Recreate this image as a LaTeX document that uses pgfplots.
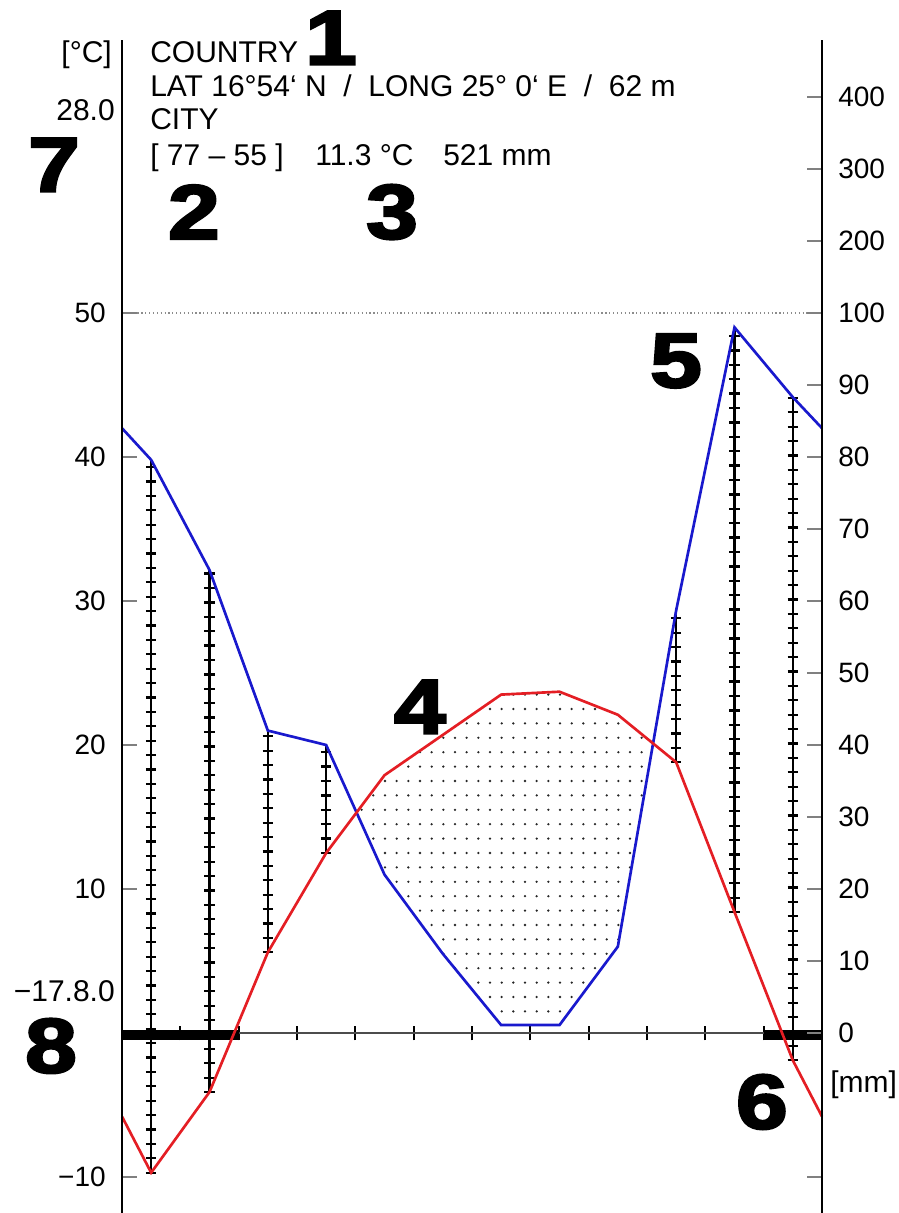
\documentclass[border=0pt]{standalone}
\usepackage{fontspec}
\setmainfont{Liberation Sans}
\newfontfamily\blk{Liberation Sans}[FakeBold=3]
\usepackage{graphicx}
\usepackage{pgfplots}
\usepackage{pgfplotstable}
\pgfplotsset{compat=1.18}
\usepgfplotslibrary{fillbetween}
\usetikzlibrary{patterns.meta,decorations.pathreplacing}
\definecolor{wlred}{RGB}{228,30,36}
\definecolor{wlblue}{RGB}{25,25,205}

\tikzdeclarepattern{
  name=wldots,
  type=uncolored,
  bounding box={(-1.2pt,-1.2pt) and (1.2pt,1.2pt)},
  tile size={(8.75pt,10.8pt)},
  code={\fill (0pt,0pt) circle (0.95pt);}
}

% x = month position (0..12), t = temperature [°C], p = precipitation [mm]
\pgfplotstableread{
x    t     p
0    -5.8  84.0
0.5  -9.7  79.6
1.5  -4.1  64.3
2.5   5.6  42.0
3.5  12.5  40.0
4.5  17.9  22.0
5.5  20.7  11.0
6.5  23.5   1.1
7.5  23.7   1.1
8.5  22.1  12.0
9.5  18.8  58.7
10.5  8.4  98.0
11.5 -1.9  88.3
12   -5.8  84.0
}\climate

\pgfplotsset{
  wl/.style={width=525pt, height=879.75pt, scale only axis,
    xmin=0, xmax=12, ymin=-12.5, ymax=68.958, clip=false},
  hatch/.style={black, line width=1.7pt, line cap=butt,
    postaction={decorate, decoration={ticks, segment length=10.8pt, amplitude=3.9pt}}},
}

\def\hfont{\fontsize{22.5}{25}\selectfont}
\def\bigf{\blk\bfseries\fontsize{58}{62}\selectfont}
\newcommand\bignum[1]{\scalebox{1.2}[1]{#1}}

\begin{document}
\begin{tikzpicture}
% ---------- main axis: zero line, data ----------
\begin{axis}[wl,
  axis x line*=middle, axis y line=none,
  xtick={1,...,11}, xticklabels={},
  tick align=center, major tick length=11pt,
  x axis line style={draw=black!70, line width=2.2pt},
  xtick style={black, line width=1.4pt},
]
\coordinate (bbsw) at (axis cs:-2.0914,-12.5);
\coordinate (bbne) at (axis cs:13.303,71.736);

% 100 mm dotted guide
\addplot[black!45, dotted, line width=0.9pt] coordinates {(0,50) (12,50)};

% curves (named for the fill)
\addplot[draw=none, name path=T, forget plot] table[x=x, y=t] {\climate};
\addplot[draw=none, name path=P, forget plot] table[x=x, y expr=\thisrow{p}/2] {\climate};

% arid period (stippled)
\addplot[pattern=wldots, pattern color=black!85] fill between[of=T and P, soft clip={domain=4.014:9.104}];

% humid period (vertical hatching)
\addplot[hatch] coordinates {(0.5,-9.7) (0.5,39.8)};
\addplot[hatch] coordinates {(1.5,-4.1) (1.5,32.15)};
\addplot[hatch] coordinates {(2.5,5.6) (2.5,21.0)};
\addplot[hatch] coordinates {(3.5,12.5) (3.5,20.0)};
\addplot[hatch] coordinates {(9.5,18.8) (9.5,29.35)};
\addplot[hatch] coordinates {(10.5,8.4) (10.5,49.0)};
\addplot[hatch] coordinates {(11.5,-1.9) (11.5,44.15)};

% frost months
\addplot[black, line width=7pt, line cap=butt] coordinates {(0,-0.15) (2,-0.15)};
\addplot[black, line width=7pt, line cap=butt] coordinates {(11,-0.15) (12,-0.15)};

% temperature and precipitation lines
\addplot[wlblue, line width=2pt] table[x=x, y expr=\thisrow{p}/2] {\climate};
\addplot[wlred, line width=2pt] table[x=x, y=t] {\climate};

% header text
\node[anchor=base west, font=\hfont, inner sep=0pt] at (axis cs:0.48,67.36) {COUNTRY};
\node[anchor=base west, font=\hfont, inner sep=0pt] at (axis cs:0.48,65.0) {LAT 16°54‘ N\ \ /\ \ LONG 25° 0‘ E\ \ /\ \ 62 m};
\node[anchor=base west, font=\hfont, inner sep=0pt] at (axis cs:0.48,62.71) {CITY};
\node[anchor=base west, font=\hfont, inner sep=0pt] at (axis cs:0.48,60.21) {[ 77 – 55 ]};
\node[anchor=base west, font=\hfont, inner sep=0pt] at (axis cs:3.309,60.21) {11.3 °C};
\node[anchor=base west, font=\hfont, inner sep=0pt] at (axis cs:5.503,60.21) {521 mm};

% side annotations
\node[anchor=base east, font=\hfont, inner sep=0pt] at (axis cs:-0.171,67.4) {[°C]};
\node[anchor=base east, font=\hfont, inner sep=0pt] at (axis cs:-0.12,63.40) {28.0};
\node[anchor=base east, font=\hfont, inner sep=0pt] at (axis cs:-0.12,2.153) {−17.8.0};
\node[anchor=base west, font=\hfont, inner sep=0pt] at (axis cs:12.137,-4.10) {[mm]};

% big reference numbers
\node[inner sep=0pt, font=\bigf] at (axis cs:3.583,69.1) {\bignum{1}};
\node[inner sep=0pt, font=\bigf] at (axis cs:1.234,57.01) {\bignum{2}};
\node[inner sep=0pt, font=\bigf] at (axis cs:4.629,57.01) {\bignum{3}};
\node[inner sep=0pt, font=\bigf] at (axis cs:5.109,22.64) {\bignum{4}};
\node[inner sep=0pt, font=\bigf] at (axis cs:9.497,46.67) {\bignum{5}};
\node[inner sep=0pt, font=\bigf] at (axis cs:10.97,-4.79) {\bignum{6}};
\node[inner sep=0pt, font=\bigf] at (axis cs:-1.166,60.28) {\bignum{7}};
\node[inner sep=0pt, font=\bigf] at (axis cs:-1.217,-0.90) {\bignum{8}};
\end{axis}

% ---------- left temperature axis ----------
\begin{axis}[wl,
  axis x line=none, axis y line*=left,
  ytick={-10,10,20,30,40,50},
  yticklabels={−10,10,20,30,40,50},
  tick align=inside, major tick length=11pt,
  y axis line style={line width=1.5pt},
  ytick style={line width=1.5pt},
  yticklabel style={font=\fontsize{21}{23}\selectfont, inner sep=0pt, xshift=-12pt},
]
\end{axis}

% ---------- right precipitation axis ----------
\begin{axis}[wl,
  axis x line=none, axis y line*=right,
  ytick={-10,0,5,10,15,20,25,30,35,40,45,50,55,60,65},
  yticklabels={,0,10,20,30,40,50,60,70,80,90,100,200,300,400},
  tick align=inside, major tick length=11pt,
  y axis line style={line width=1.5pt},
  ytick style={line width=1.5pt},
  yticklabel style={font=\fontsize{21}{23}\selectfont, inner sep=0pt, xshift=12pt},
]
\end{axis}

\pgfresetboundingbox
\useasboundingbox (bbsw) rectangle (bbne);
\end{tikzpicture}
\end{document}
